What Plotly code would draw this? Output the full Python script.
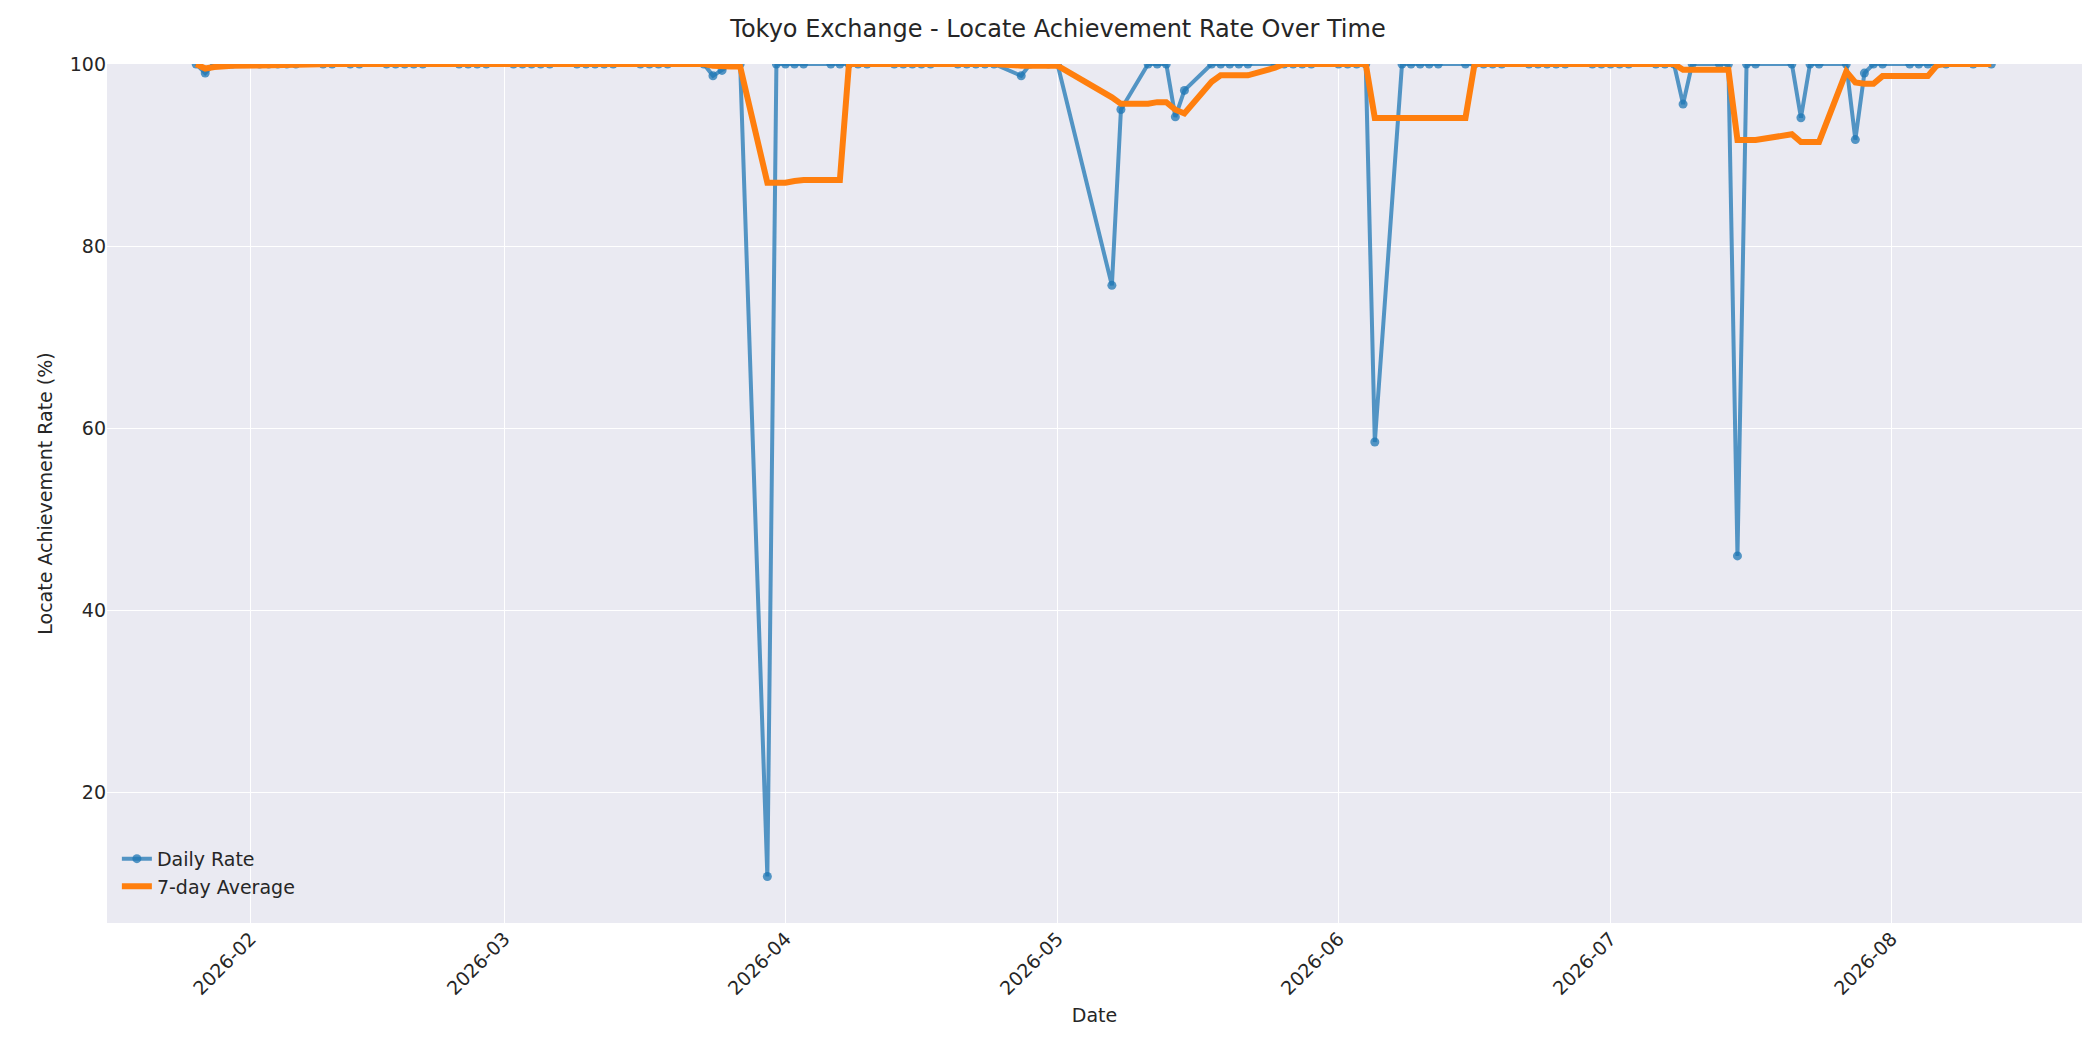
import pandas as pd
import plotly.graph_objects as go

# --- daily locate achievement rate (Tokyo business days)
jan_days = [26, 27, 28, 29, 30]
jan_rate = [100, 99.0, 100, 100, 100]

feb_days = [2, 3, 4, 5, 6, 9, 10, 12, 13, 16, 17, 18, 19, 20, 24, 25, 26, 27]
feb_rate = [100] * 18

mar_days = [2, 3, 4, 5, 6, 9, 10, 11, 12, 13, 16, 17, 18, 19, 23, 24, 25, 26, 27, 30, 31]
mar_rate = [100, 100, 100, 100, 100, 100, 100, 100, 100, 100, 100, 100, 100, 100, 100,
            98.7, 99.3, 100, 100, 10.8, 100]

apr_days = [1, 2, 3, 6, 7, 8, 9, 10, 13, 14, 15, 16, 17, 20, 21, 22, 23, 24, 27, 28, 30]
apr_rate = [100, 100, 100, 100, 100, 100, 100, 100, 100, 100, 100, 100, 100, 100, 100,
            100, 100, 100, 98.7, 100, 100]

may_days = [1, 7, 8, 11, 12, 13, 14, 15, 18, 19, 20, 21, 22, 25, 26, 27, 28, 29]
may_rate = [100, 75.7, 95.0, 100, 100, 100, 94.2, 97.1, 100, 100, 100, 100, 100,
            100, 100, 100, 100, 100]

jun_days = [1, 2, 3, 4, 5, 8, 9, 10, 11, 12, 15, 16, 17, 18, 19, 22, 23, 24, 25, 26, 29, 30]
jun_rate = [100, 100, 100, 100, 58.5, 100, 100, 100, 100, 100, 100, 100, 100, 100, 100,
            100, 100, 100, 100, 100, 100, 100]

jul_days = [1, 2, 3, 6, 7, 8, 9, 10, 13, 14, 15, 16, 17, 21, 22, 23, 24, 27, 28, 29, 30, 31]
jul_rate = [100, 100, 100, 100, 100, 100, 95.6, 100, 100, 100, 46.0, 100, 100, 100,
            94.1, 100, 100, 100, 91.7, 99.0, 100, 100]

aug_days = [3, 4, 5, 6, 7, 10, 12]
aug_rate = [100] * 7


months = [(1, jan_days, jan_rate), (2, feb_days, feb_rate), (3, mar_days, mar_rate),
          (4, apr_days, apr_rate), (5, may_days, may_rate), (6, jun_days, jun_rate),
          (7, jul_days, jul_rate), (8, aug_days, aug_rate)]
dates, rates = [], []
for m, days, vals in months:
    dates += [pd.Timestamp(2026, m, d) for d in days]
    rates += vals

df = pd.DataFrame({'date': dates, 'rate': rates})
df['avg7'] = df['rate'].rolling(7, min_periods=1).mean()

font = 'DejaVu Sans, Arial, sans-serif'
fig = go.Figure()
fig.add_trace(go.Scatter(x=df['date'], y=df['rate'], mode='lines+markers', name='Daily Rate',
                         line=dict(color='rgba(31,119,180,0.75)', width=4),
                         marker=dict(color='rgba(31,119,180,0.75)', size=9)))
fig.add_trace(go.Scatter(x=df['date'], y=df['avg7'], mode='lines', name='7-day Average',
                         line=dict(color='#ff7f0e', width=6)))

fig.update_layout(
    width=2100, height=1050,
    paper_bgcolor='white', plot_bgcolor='#EAEAF2',
    font=dict(family=font, size=19, color='#262626'),
    title=dict(text='Tokyo Exchange - Locate Achievement Rate Over Time', x=0.5, xanchor='center',
               y=0.988, yanchor='top', font=dict(size=24, color='#262626')),
    margin=dict(l=99, r=26, t=56, b=135),
    legend=dict(x=0.005, y=0.02, xanchor='left', yanchor='bottom', bgcolor='rgba(0,0,0,0)',
                font=dict(size=19)),
)
fig.update_xaxes(
    automargin=False,
    title_text='Date', title_font=dict(size=19), title_standoff=10,
    range=['2026-01-16 04:00', '2026-08-22'],
    tickvals=['2026-02-01', '2026-03-01', '2026-04-01', '2026-05-01', '2026-06-01',
              '2026-07-01', '2026-08-01'],
    tickformat='%Y-%m', tickangle=-45, tickfont=dict(size=19),
    gridcolor='white', gridwidth=1.3, showline=False, zeroline=False)
fig.update_yaxes(
    automargin=False,
    title_text='Locate Achievement Rate (%)', title_font=dict(size=19), title_standoff=12,
    range=[5.7, 100], tickvals=[20, 40, 60, 80, 100], tickfont=dict(size=19),
    gridcolor='white', gridwidth=1.3, showline=False, zeroline=False)

fig.write_html('out.html')
